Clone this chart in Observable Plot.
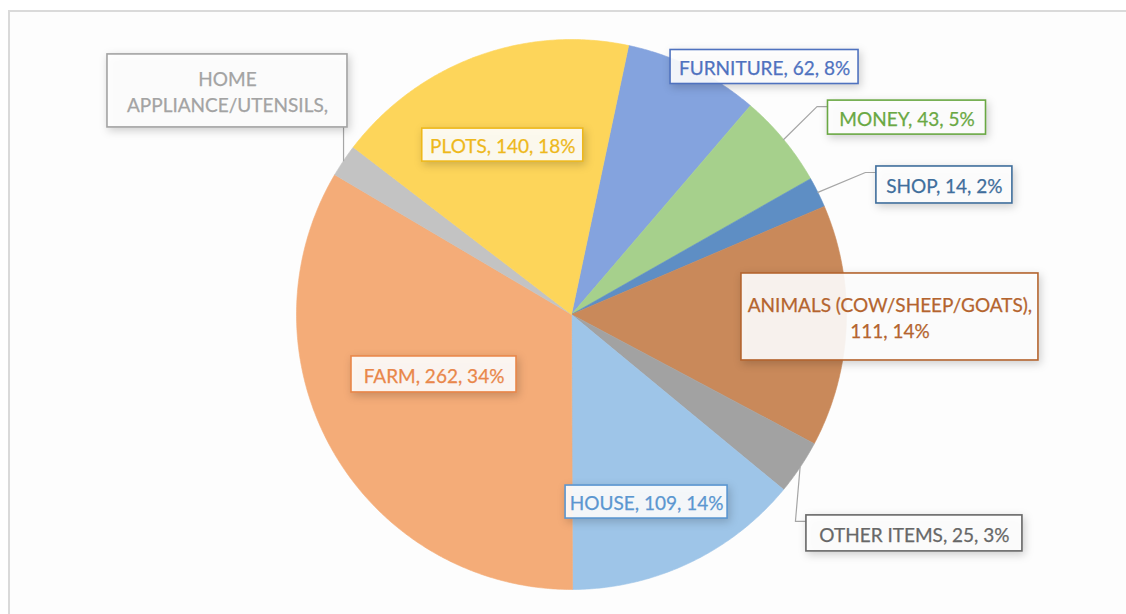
<!DOCTYPE html>
<html><head><meta charset="utf-8">
<script src="https://cdn.jsdelivr.net/npm/d3@7"></script>
<script src="https://cdn.jsdelivr.net/npm/@observablehq/plot@0.6"></script>
<style>
html,body{margin:0;padding:0;background:#fff;overflow:hidden;}
#frame{position:absolute;left:8px;top:10px;width:1200px;height:700px;border:2px solid #dadada;background:#fdfdfd;}
#chart{position:absolute;left:0;top:0;}
#chart svg rect{filter: drop-shadow(2px 3px 4px rgba(0,0,0,0.2));}
</style></head><body>
<div id="frame"></div><div id="chart"></div>
<script>
// ---- data (clockwise, starting at the FURNITURE slice) ----
const categories = ["FURNITURE","MONEY","SHOP","ANIMALS (COW/SHEEP/GOATS)","OTHER ITEMS","HOUSE","FARM","HOME APPLIANCE/UTENSILS","PLOTS"];
const values = [62, 43, 14, 111, 25, 109, 262, 15, 140];
const labels = [
  "FURNITURE, 62, 8%",
  "MONEY, 43, 5%",
  "SHOP, 14, 2%",
  "ANIMALS (COW/SHEEP/GOATS),\n111, 14%",
  "OTHER ITEMS, 25, 3%",
  "HOUSE, 109, 14%",
  "FARM, 262, 34%",
  "HOME\nAPPLIANCE/UTENSILS,",
  "PLOTS, 140, 18%"
];
const sliceColors = ["#84a3de","#a6d08c","#5e8ec4","#c9895a","#a2a2a2","#9ec5e8","#f4ac78","#c3c3c3","#fdd55a"];
const labelColors = ["#4f72bf","#6aa843","#3f6e9c","#b4642e","#676767","#5b96d0","#e9874a","#a3a3a3","#eeb81c"];

// ---- layout (label anchors in pie-radius units, box sizes in px) ----
const startDeg = 12;
const labelX = [0.702, 1.220, 1.356, 1.158, 1.247, 0.273, -0.500, -1.251, -0.250];
const labelY = [0.900, 0.716, 0.471, -0.009, -0.796, -0.682, -0.218, 0.813, 0.616];
const boxW = [188, 158, 136, 297, 216, 162, 165, 240, 161];
const boxH = [34, 34, 37, 87, 36, 33, 36, 73, 33];
const leaderType = [null, "left", "left", null, "left", null, null, "down", null];

const R = 275, CX = 571, CY = 314;

const table = categories.map((c, i) => ({
  name: c, value: values[i], color: sliceColors[i], label: labels[i],
  tcolor: labelColors[i], lx: labelX[i], ly: labelY[i], w: boxW[i], h: boxH[i], leader: leaderType[i]
}));

const pie = d3.pie().sort(null).value(d => d.value)
  .startAngle(startDeg * Math.PI / 180)
  .endAngle(startDeg * Math.PI / 180 + 2 * Math.PI);
const arcs = pie(table);

const slicePts = arcs.flatMap(a => {
  const d = a.data;
  const n = Math.max(2, Math.ceil((a.endAngle - a.startAngle) / (Math.PI / 360)));
  const out = [{name: d.name, color: d.color, x: 0, y: 0}];
  for (let i = 0; i <= n; i++) {
    const t = a.startAngle + (a.endAngle - a.startAngle) * i / n;
    out.push({name: d.name, color: d.color, x: Math.sin(t), y: Math.cos(t)});
  }
  out.push({name: d.name, color: d.color, x: 0, y: 0});
  return out;
});

const boxes = table.map(d => ({
  ...d,
  x1: d.lx - d.w / 2 / R, x2: d.lx + d.w / 2 / R,
  y1: d.ly - d.h / 2 / R, y2: d.ly + d.h / 2 / R
}));

const leaderPts = arcs.flatMap(a => {
  const d = a.data;
  if (!d.leader) return [];
  const mid = (a.startAngle + a.endAngle) / 2;
  const ex = Math.sin(mid), ey = Math.cos(mid);
  const left = d.lx - d.w / 2 / R, top = d.ly + d.h / 2 / R, bottom = d.ly - d.h / 2 / R;
  if (d.leader === "left") {
    const ay = top - 6 / R;
    return [
      {name: d.name, x: ex, y: ey},
      {name: d.name, x: left - 11 / R, y: ay},
      {name: d.name, x: left, y: ay}
    ];
  }
  return [
    {name: d.name, x: ex, y: ey},
    {name: d.name, x: ex, y: bottom}
  ];
});

const chart = Plot.plot({
  width: 1126, height: 614,
  marginTop: 0, marginRight: 0, marginBottom: 0, marginLeft: 0,
  x: {domain: [-1, 1], range: [CX - R, CX + R], axis: null},
  y: {domain: [-1, 1], range: [CY + R, CY - R], axis: null},
  color: {type: "identity"},
  style: {background: "transparent", fontFamily: "Lato, 'Open Sans', sans-serif"},
  marks: [
    Plot.line(slicePts, {x: "x", y: "y", z: "name", fill: "color", stroke: "color", strokeWidth: 0.6, curve: "linear"}),
    Plot.line(leaderPts, {x: "x", y: "y", z: "name", stroke: "#a6a6a6", strokeWidth: 1.2}),
    Plot.rect(boxes, {x1: "x1", x2: "x2", y1: "y1", y2: "y2", fill: "#ffffff", fillOpacity: 0.9, stroke: "tcolor", strokeWidth: 1.6}),
    Plot.text(table, {x: "lx", y: "ly", text: "label", fill: "tcolor", stroke: "tcolor", strokeWidth: 0.25, fontSize: 19, lineHeight: 1.35, fontFamily: "Lato, 'Open Sans', sans-serif"})
  ]
});
document.getElementById("chart").appendChild(chart);
</script>
</body></html>
